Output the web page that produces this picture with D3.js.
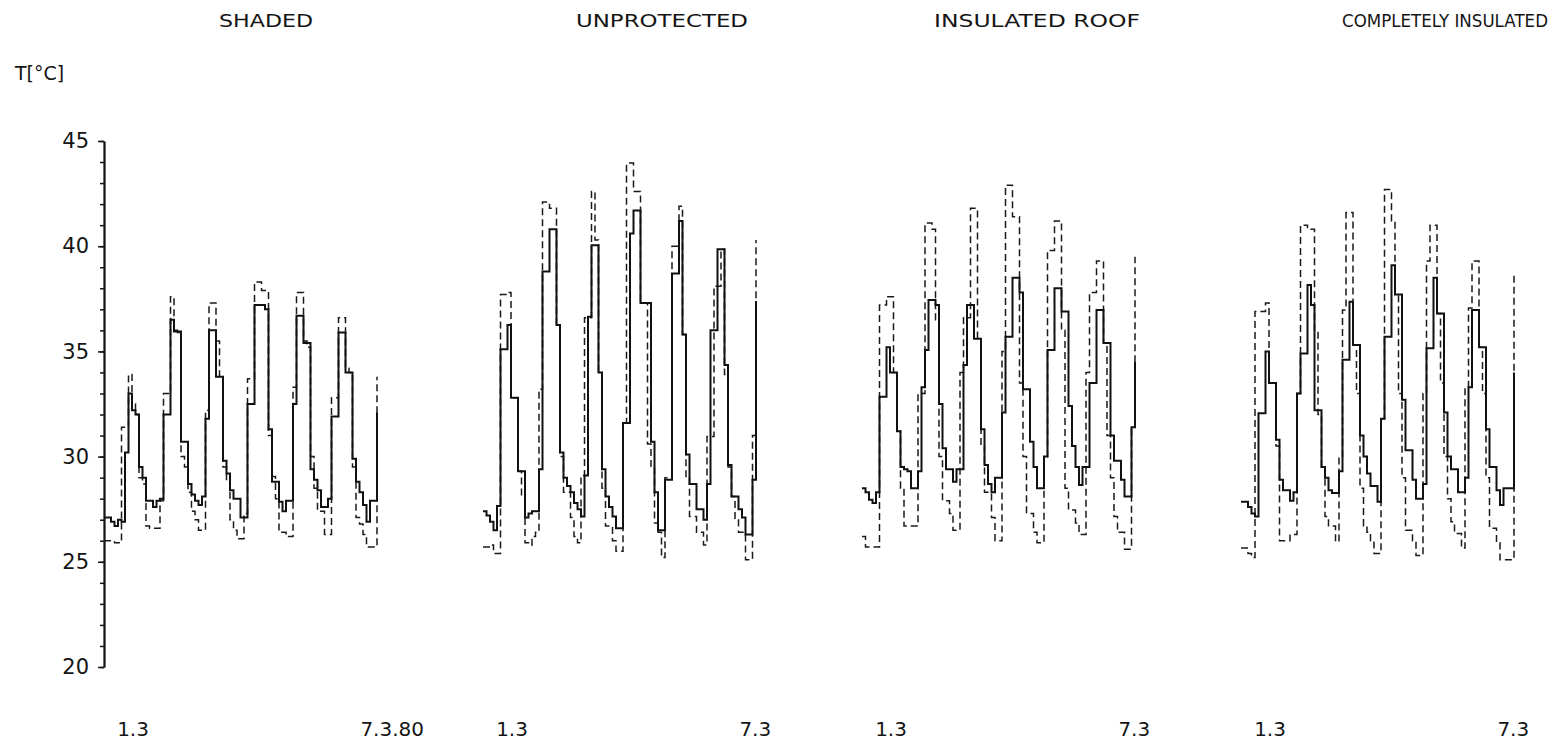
<!DOCTYPE html>
<html>
<head>
<meta charset="utf-8">
<script src="https://cdn.jsdelivr.net/npm/d3@7.9.0/dist/d3.min.js"></script>
<style>
  body { margin: 0; background: #fff; }
  text { font-family: "DejaVu Sans", sans-serif; fill: #151515; }
</style>
</head>
<body>
<svg id="chart" width="1558" height="743"></svg>
<script>
// panel titles and date labels
const panelTitles = ["SHADED", "UNPROTECTED", "INSULATED ROOF", "COMPLETELY INSULATED"];
const startLabels = ["1.3", "1.3", "1.3", "1.3"];
const endLabels = ["7.3.80", "7.3", "7.3", "7.3"];
const yMajorTicks = [20, 25, 30, 35, 40, 45];

// temperature readings, one every 2 hours (solid = inside, dashed = outside)
const stepHours = 2;

const shadedSolid = [
  27.1, 27.1, 26.9, 26.7, 27.0, 26.9, 30.2, 33.0, 32.2, 32.0,
  29.5, 29.0, 27.9, 27.9, 27.6, 27.9, 28.0, 32.0, 32.0, 36.5,
  35.95, 35.95, 30.7, 30.7, 28.7, 28.2, 27.9, 27.7, 28.1, 31.8,
  36.0, 36.0, 33.8, 33.8, 29.8, 29.2, 28.4, 28.0, 28.0, 27.1,
  27.1, 32.5, 32.5, 37.2, 37.2, 37.2, 37.0, 31.3, 28.8, 28.8,
  27.85, 27.4, 27.9, 27.9, 32.5, 36.7, 36.7, 35.4, 35.4, 29.4,
  28.9, 28.4, 27.6, 27.6, 28.0, 31.9, 31.9, 35.9, 35.9, 34.0,
  34.0, 29.9, 28.8, 28.3, 27.7, 26.9, 27.9, 27.9, 32.1
];
const shadedDashed = [
  26.0, 26.0, 26.0, 25.9, 25.9, 31.4, 31.4, 33.9, 32.5, 32.0,
  29.0, 28.7, 26.7, 26.6, 26.6, 26.6, 27.9, 33.0, 33.0, 37.6,
  36.0, 35.9, 30.0, 29.5, 28.3, 27.4, 27.0, 26.5, 26.5, 32.2,
  37.3, 37.3, 35.5, 33.8, 29.5, 28.8, 27.0, 26.5, 26.1, 26.1,
  27.3, 33.7, 33.7, 38.3, 38.3, 37.9, 37.9, 31.0, 29.05, 28.0,
  26.4, 26.4, 26.2, 26.2, 33.3, 37.8, 37.8, 35.5, 35.2, 30.0,
  28.5, 27.4, 27.4, 26.3, 26.3, 32.8, 32.8, 36.6, 36.6, 34.2,
  34.0, 29.5, 27.1, 26.8, 26.3, 25.7, 25.7, 25.7, 33.8
];

const unprotectedSolid = [
  27.4, 27.2, 26.9, 26.5, 27.65, 35.1, 35.1, 36.25, 32.8, 32.8,
  29.3, 29.3, 27.1, 27.3, 27.4, 27.4, 29.4, 38.8, 38.8, 40.8,
  40.8, 36.25, 30.2, 29.0, 28.6, 28.3, 27.8, 27.5, 27.15, 29.1,
  36.65, 40.05, 40.05, 34.0, 29.4, 28.1, 27.6, 27.15, 26.6, 26.6,
  31.6, 31.6, 40.6, 41.7, 41.7, 37.3, 37.3, 37.3, 30.7, 28.3,
  26.5, 26.5, 28.9, 28.9, 38.7, 38.7, 41.2, 35.8, 30.1, 28.7,
  28.7, 27.5, 27.5, 27.0, 28.7, 36.0, 36.0, 39.85, 39.85, 34.35,
  29.6, 28.1, 28.1, 27.5, 27.1, 26.3, 26.3, 28.9, 37.4
];
const unprotectedDashed = [
  25.7, 25.7, 25.8, 25.4, 25.4, 37.7, 37.7, 37.8, 32.8, 32.8,
  29.3, 28.1, 25.9, 25.8, 26.2, 26.4, 33.2, 42.1, 42.1, 41.8,
  41.8, 36.25, 30.0, 28.3, 28.3, 27.1, 26.2, 25.9, 29.1, 36.6,
  36.6, 42.6, 40.3, 34.0, 28.5, 26.7, 26.7, 26.0, 25.5, 25.5,
  31.6, 43.95, 43.95, 42.6, 42.6, 37.3, 37.3, 30.6, 29.5, 26.85,
  26.4, 25.2, 29.0, 29.0, 40.0, 40.0, 41.9, 35.8, 29.0, 27.15,
  27.15, 26.4, 26.4, 25.8, 30.95, 30.95, 38.1, 38.1, 39.85, 33.9,
  29.5, 28.1, 27.0, 26.4, 26.4, 25.1, 25.1, 31.0, 40.3
];

const roofSolid = [
  28.5, 28.3, 27.95, 27.8, 28.3, 32.85, 32.85, 35.2, 34.0, 34.0,
  31.2, 29.5, 29.4, 29.3, 28.5, 28.5, 29.3, 33.3, 35.07, 37.44,
  37.44, 37.2, 32.5, 30.4, 29.4, 29.4, 28.8, 29.4, 29.4, 34.35,
  37.2, 37.2, 35.6, 35.6, 31.3, 29.6, 28.7, 28.3, 29.0, 29.0,
  32.1, 35.7, 35.7, 38.5, 38.5, 37.8, 33.2, 33.2, 30.7, 29.5,
  28.5, 28.5, 30.0, 35.07, 35.07, 38.0, 38.0, 36.9, 36.9, 32.4,
  30.5, 29.5, 28.65, 29.5, 29.5, 33.5, 33.5, 36.97, 36.97, 35.4,
  35.4, 31.0, 29.8, 29.8, 28.9, 28.1, 28.1, 31.4, 34.5
];
const roofDashed = [
  26.2, 25.7, 25.7, 25.7, 25.7, 37.2, 37.2, 37.6, 37.6, 34.0,
  31.2, 28.5, 26.7, 26.7, 26.7, 26.7, 33.0, 33.0, 41.1, 41.1,
  40.8, 36.5, 30.0, 27.9, 27.9, 27.3, 26.5, 26.5, 34.0, 36.6,
  36.6, 41.8, 41.8, 35.6, 30.5, 28.3, 28.3, 27.1, 26.0, 26.0,
  35.0, 42.9, 42.9, 41.4, 41.4, 33.5, 30.0, 27.3, 27.3, 26.4,
  25.9, 25.9, 30.0, 39.8, 39.8, 41.2, 41.2, 36.0, 28.5, 27.46,
  27.46, 26.85, 26.3, 26.3, 34.0, 37.8, 37.8, 39.3, 39.3, 35.4,
  31.0, 29.0, 27.15, 26.4, 26.4, 25.6, 25.6, 31.4, 39.5
];

const insulatedSolid = [
  27.86, 27.86, 27.6, 27.3, 27.15, 32.06, 32.06, 35.0, 33.5, 33.5,
  30.8, 28.9, 28.4, 28.4, 27.9, 28.3, 33.0, 34.9, 34.9, 38.15,
  37.2, 32.2, 32.2, 29.5, 29.0, 28.4, 28.27, 28.27, 29.3, 34.6,
  34.6, 37.36, 35.3, 35.3, 31.0, 30.0, 29.2, 28.6, 28.6, 27.86,
  31.8, 35.7, 35.7, 39.1, 37.7, 37.7, 32.7, 30.3, 30.3, 28.9,
  28.0, 28.0, 28.7, 35.15, 35.15, 38.5, 36.8, 36.8, 32.1, 30.0,
  29.4, 29.4, 28.3, 28.3, 29.0, 33.3, 36.97, 36.97, 35.2, 35.2,
  31.3, 29.5, 29.5, 28.4, 27.7, 28.5, 28.5, 28.5, 34.0
];
const insulatedDashed = [
  25.65, 25.65, 25.4, 25.2, 36.9, 36.9, 36.9, 37.3, 33.5, 33.5,
  30.5, 26.0, 26.0, 26.0, 26.3, 26.3, 33.0, 41.0, 41.0, 40.8,
  40.8, 35.9, 32.0, 29.5, 27.15, 26.7, 26.7, 25.96, 30.0, 36.97,
  41.6, 41.6, 35.3, 33.0, 28.5, 26.7, 26.4, 26.0, 25.4, 25.4,
  31.8, 42.7, 42.7, 41.2, 37.7, 33.0, 29.0, 26.5, 26.5, 26.0,
  25.3, 25.3, 33.0, 39.3, 41.0, 41.0, 36.8, 33.5, 30.0, 28.0,
  26.9, 26.35, 26.35, 25.65, 33.3, 37.06, 39.3, 39.3, 35.2, 33.0,
  29.0, 26.6, 26.6, 25.9, 25.1, 25.1, 25.1, 25.1, 38.7
];

const solidSeries = [shadedSolid, unprotectedSolid, roofSolid, insulatedSolid];
const dashedSeries = [shadedDashed, unprotectedDashed, roofDashed, insulatedDashed];

// layout
const panelLeft = [104, 483, 862, 1241];
const titleCenter = [266, 662, 1037, 1445];
const titleWidth = [94, 172, 206, 206];
const titleSize = [18, 18, 18, 17];
const panelWidth = 273;
const totalHours = (shadedSolid.length - 1) * stepHours;

const svg = d3.select("#chart");

const y = d3.scaleLinear().domain([20, 45]).range([667, 141]);
const x = d3.scaleLinear().domain([0, totalHours]).range([0, panelWidth]);

const line = d3.line()
  .x((d, i) => x(i * stepHours))
  .y(d => y(d))
  .curve(d3.curveStepAfter);

// titles
svg.selectAll("text.title")
  .data(panelTitles)
  .join("text")
  .attr("class", "title")
  .attr("x", (d, i) => titleCenter[i])
  .attr("y", 27)
  .attr("text-anchor", "middle")
  .attr("font-size", (d, i) => titleSize[i])
  .attr("textLength", (d, i) => titleWidth[i])
  .attr("lengthAdjust", "spacingAndGlyphs")
  .text(d => d);

// unit label
svg.append("text")
  .attr("x", 15)
  .attr("y", 80)
  .attr("font-size", 19)
  .text("T[°C]");

// y axis, panel 1 only
const minorAxis = svg.append("g")
  .attr("transform", `translate(${panelLeft[0]},0)`)
  .call(d3.axisLeft(y).tickValues(d3.range(20, 46)).tickSize(4).tickSizeOuter(0).tickFormat(""));
minorAxis.selectAll("path, line").attr("stroke", "#151515").attr("stroke-width", 1.5);

const majorAxis = svg.append("g")
  .attr("transform", `translate(${panelLeft[0]},0)`)
  .call(d3.axisLeft(y).tickValues(yMajorTicks).tickSize(6).tickSizeOuter(0).tickPadding(9));
majorAxis.select(".domain").attr("stroke", "#151515").attr("stroke-width", 2);
majorAxis.selectAll(".tick line").attr("stroke", "#151515").attr("stroke-width", 1.5);
majorAxis.selectAll(".tick text")
  .attr("font-size", 21)
  .attr("font-family", "DejaVu Sans, sans-serif")
  .attr("fill", "#151515");

// panels
panelTitles.forEach((t, p) => {
  const g = svg.append("g").attr("transform", `translate(${panelLeft[p]},0)`);

  g.append("path")
    .datum(dashedSeries[p])
    .attr("d", line)
    .attr("fill", "none")
    .attr("stroke", "#1a1a1a")
    .attr("stroke-width", 1.5)
    .attr("stroke-dasharray", "7,4");

  g.append("path")
    .datum(solidSeries[p])
    .attr("d", line)
    .attr("fill", "none")
    .attr("stroke", "#111")
    .attr("stroke-width", 2);

  g.append("text")
    .attr("x", x(7.5))
    .attr("y", 736)
    .attr("font-size", 20)
    .text(startLabels[p]);

  g.append("text")
    .attr("x", x(146.5))
    .attr("y", 736)
    .attr("font-size", 20)
    .text(endLabels[p]);
});
</script>
</body>
</html>
